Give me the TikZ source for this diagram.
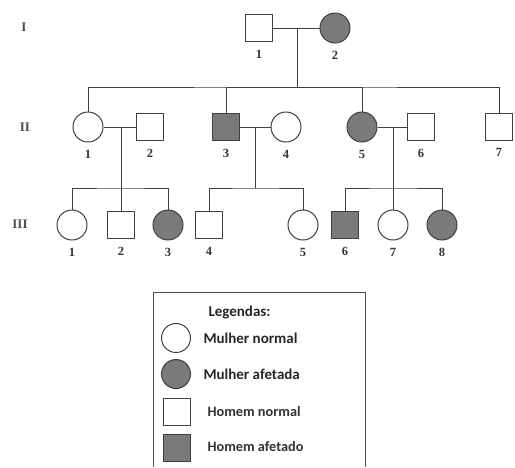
\documentclass[tikz,border=0pt]{standalone}
\usepackage{fontspec}
\setmainfont{Liberation Serif}
\newfontfamily\legfont{Carlito}
\tikzset{
  ind/.style={draw=black!75,line width=1pt,inner sep=0pt,fill=white},
  female/.style={ind,circle,minimum size=30pt},
  male/.style={ind,rectangle,minimum size=27.5pt},
  aff/.style={fill=black!52},
  lbl/.style={font=\fontsize{12.5}{12.5}\selectfont\bfseries,text=black!80,label distance=4pt},
  gen/.style={font=\fontsize{13}{13}\selectfont\bfseries,text=black!70},
  leg/.style={font=\legfont\fontsize{15}{17}\selectfont\bfseries,text=black!85,anchor=west},
  legm/.style={font=\legfont\fontsize{14.3}{17}\selectfont\bfseries,text=black!80,anchor=west},
  link/.style={draw=black!75,line width=1pt}
}
\begin{document}
\begin{tikzpicture}[x=1pt,y=-1pt]
    \useasboundingbox (0,0) rectangle (515,467);
    % generation labels
    \node [gen] (gI) at (24,27) {I};
    \node [gen] (gII) at (25,127) {II};
    \node [gen] (gIII) at (20,224) {III};
    % generation I
    \node [male,label={[lbl]below:1}] (I1) at (259,28) {};
    \node [female,aff,label={[lbl]below:2}] (I2) at (335,28) {};
    \coordinate (m1) at (297,28);
    \coordinate (s1) at (297,87);
    % generation II
    \node [female,label={[lbl]below:1}] (II1) at (88,127) {};
    \node [male,label={[lbl]below:2}] (II2) at (150,127) {};
    \node [male,aff,label={[lbl]below:3}] (II3) at (226,127) {};
    \node [female,label={[lbl]below:4}] (II4) at (286,127) {};
    \node [female,aff,label={[lbl]below:5}] (II5) at (362,127) {};
    \node [male,label={[lbl]below:6}] (II6) at (421,127) {};
    \node [male,label={[lbl]below:7}] (II7) at (499,127) {};
    \coordinate (m2) at (121,127);
    \coordinate (m3) at (255,127);
    \coordinate (m4) at (393,127);
    \coordinate (s2) at (121,188);
    \coordinate (s3) at (255,188);
    \coordinate (s4) at (393,188);
    % generation III
    \node [female,label={[lbl]below:1}] (III1) at (72,225) {};
    \node [male,label={[lbl]below:2}] (III2) at (121,225) {};
    \node [female,aff,label={[lbl]below:3}] (III3) at (168,225) {};
    \node [male,label={[lbl]below:4}] (III4) at (209,225) {};
    \node [female,label={[lbl]below:5}] (III5) at (303,225) {};
    \node [male,aff,label={[lbl]below:6}] (III6) at (345,225) {};
    \node [female,label={[lbl]below:7}] (III7) at (393,225) {};
    \node [female,aff,label={[lbl]below:8}] (III8) at (442,225) {};
    % couples and descent
    \draw [link] (I1) -- (I2);
    \draw [link] (m1) -- (s1);
    \draw [link] (II1) |- (s1) -| (II7);
    \draw [link] (s1) -| (II3);
    \draw [link] (s1) -| (II5);
    \draw [link] (II1) -- (II2);
    \draw [link] (II3) -- (II4);
    \draw [link] (II5) -- (II6);
    \draw [link] (m2) -- (III2);
    \draw [link] (III1) |- (s2) -| (III3);
    \draw [link] (m3) -- (s3);
    \draw [link] (III4) |- (s3) -| (III5);
    \draw [link] (m4) -- (III7);
    \draw [link] (III6) |- (s4) -| (III8);
    % legend
    \draw [draw=black!70,line width=1pt] (153,467) -- (153,292) -- (365,292) -- (365,467);
    \node [leg] (legtitle) at (205,313) {Legendas:};
    \node [female,minimum size=29pt] (lf) at (176,338) {};
    \node [leg] (lft) at (200,338) {Mulher normal};
    \node [female,aff,minimum size=29pt] (lfa) at (176,374) {};
    \node [leg] (lfat) at (200,374) {Mulher afetada};
    \node [male,minimum size=27pt] (lm) at (177,412) {};
    \node [legm] (lmt) at (204,412) {Homem normal};
    \node [male,aff,minimum size=27pt] (lma) at (177,448) {};
    \node [legm] (lmat) at (204,447) {Homem afetado};
\end{tikzpicture}
\end{document}
